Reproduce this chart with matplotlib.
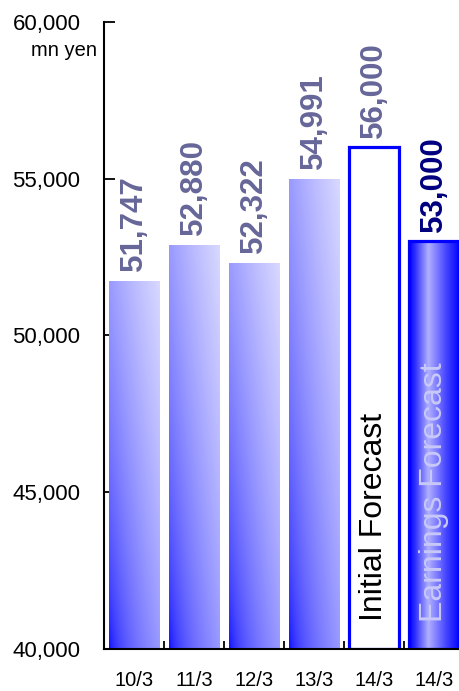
import numpy as np
import matplotlib
matplotlib.use("Agg")
import matplotlib.pyplot as plt
from matplotlib.colors import LinearSegmentedColormap

plt.rcParams['font.family'] = ['Liberation Sans', 'DejaVu Sans']

# Data
categories = ["10/3", "11/3", "12/3", "13/3", "14/3", "14/3"]
values = [51747, 52880, 52322, 54991, 56000, 53000]
value_labels = ["51,747", "52,880", "52,322", "54,991", "56,000", "53,000"]
bar_notes = {4: "Initial Forecast", 5: "Earnings Forecast"}
y_ticks = [40000, 45000, 50000, 55000, 60000]
y_tick_labels = ["40,000", "45,000", "50,000", "55,000", "60,000"]
unit_label = "mn yen"

W, H = 459, 691
fig = plt.figure(figsize=(W / 100, H / 100), dpi=100)
ax = fig.add_axes([104 / W, 42 / H, 360 / W, 627 / H])

x = np.arange(len(categories))
bar_w = 0.84

# Bars: actuals get a diagonal gradient, the initial forecast is an outline,
# the current forecast gets a horizontal "cylinder" gradient with an outline.
bars = ax.bar(x, [v - y_ticks[0] for v in values], bottom=y_ticks[0],
              width=bar_w, facecolor='none', edgecolor='none', zorder=2)

diag_cmap = LinearSegmentedColormap.from_list("diag", ["#0000FF", "#D8D8FF"])
cyl_cmap = LinearSegmentedColormap.from_list(
    "cyl", [(0.0, "#0000FF"), (0.12, "#3030FF"), (0.38, "#B0B0FF"),
            (0.75, "#4040FF"), (1.0, "#0000FF")])

n = 200
u = np.linspace(0, 1, n)
U, V = np.meshgrid(u, u)

for i, b in enumerate(bars):
    x0, y0 = b.get_x(), b.get_y()
    x1, y1 = x0 + b.get_width(), y0 + b.get_height()
    if i < 4:
        t = ((U + V) / 2) ** 0.5
        im = ax.imshow(t, cmap=diag_cmap, vmin=0, vmax=1, origin='lower',
                       extent=[x0, x1, y0, y1], aspect='auto', zorder=2,
                       interpolation='bilinear')
        im.set_clip_path(b)
    elif i == 4:
        b.set_facecolor('white')
        b.set_edgecolor('#0000FF')
        b.set_linewidth(2.3)
        b.set_zorder(3)
    else:
        im = ax.imshow(U, cmap=cyl_cmap, vmin=0, vmax=1, origin='lower',
                       extent=[x0, x1, y0, y1], aspect='auto', zorder=2,
                       interpolation='bilinear')
        im.set_clip_path(b)
        b.set_edgecolor('#0000FF')
        b.set_linewidth(2.3)
        b.set_zorder(3)

# Value labels above bars
for i, (v, lab) in enumerate(zip(values, value_labels)):
    col = '#000080' if i == 5 else '#666699'
    ax.annotate(lab, xy=(x[i], v), xytext=(0, 7), textcoords='offset points',
                rotation=90, ha='center', va='bottom', fontsize=22.5,
                fontweight='bold', color=col, zorder=5)

# Notes inside forecast bars
ax.text(x[4], 40900, bar_notes[4], rotation=90, ha='center', va='bottom',
        fontsize=23, color='black', zorder=5)
ax.text(x[5], 40850, bar_notes[5], rotation=90, ha='center', va='bottom',
        fontsize=23, color='#C8C8F8', zorder=5)

ax.set_xlim(-0.5, len(categories) - 0.5)
ax.set_ylim(y_ticks[0], y_ticks[-1])

ax.set_yticks(y_ticks)
ax.set_yticklabels(y_tick_labels, fontsize=16)
ax.tick_params(axis='y', direction='in', length=8, width=1.3, pad=17)

ax.set_xticks(x)
ax.set_xticklabels(categories, fontsize=14.5)
ax.tick_params(axis='x', which='major', length=0, pad=16)
ax.set_xticks(np.arange(len(categories) + 1) - 0.5, minor=True)
ax.tick_params(axis='x', which='minor', direction='in', length=6, width=1.3)

for s in ['top', 'right']:
    ax.spines[s].set_visible(False)
for s in ['left', 'bottom']:
    ax.spines[s].set_linewidth(1.5)
    ax.spines[s].set_zorder(4)

fig.text(97 / W, 1 - 50 / H, unit_label, ha='right', va='center', fontsize=14.5)

fig.savefig("out.png", dpi=100)
